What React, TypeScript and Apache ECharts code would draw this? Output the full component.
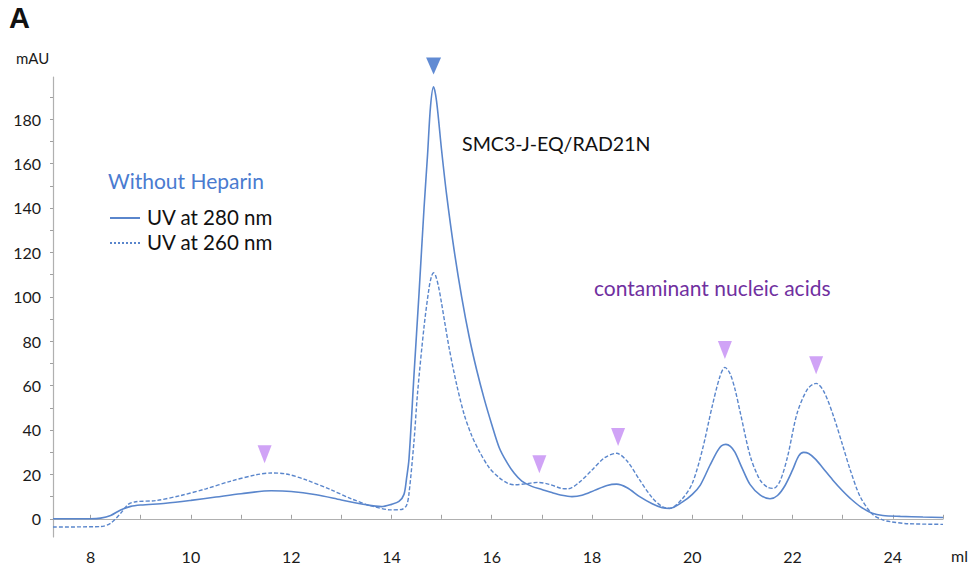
import React, { useEffect, useRef } from "react";
import * as echarts from "echarts";

// Elution volume (ml) and absorbance (mAU)
const uv280: [number, number][] = [
  [7.25, 0], [8.0, 0], [8.2, 0.3], [8.4, 1.5], [8.6, 4], [8.8, 5.6], [9.0, 6.2], [9.5, 7],
  [10.0, 8.3], [10.5, 9.8], [11.0, 11.3], [11.6, 12.6], [12.0, 12.3], [12.5, 10.8], [13.0, 8.5],
  [13.5, 6.3], [13.8, 5.5], [14.0, 6.5], [14.15, 7.8], [14.25, 11], [14.3, 18], [14.35, 27],
  [14.45, 65], [14.55, 101.5], [14.65, 140], [14.72, 164], [14.78, 186], [14.84, 194.6],
  [14.9, 188], [15.0, 166], [15.1, 146], [15.25, 121], [15.4, 100], [15.55, 82], [15.7, 67],
  [15.85, 54], [16.0, 42.5], [16.15, 32], [16.3, 25.5], [16.45, 20.5], [16.6, 17], [16.8, 14.6],
  [17.0, 13.2], [17.2, 11.8], [17.4, 10.6], [17.6, 10], [17.8, 10.6], [18.05, 12.8], [18.3, 15],
  [18.49, 15.6], [18.7, 14], [18.95, 10], [19.2, 6.8], [19.4, 5], [19.55, 4.7], [19.8, 7.5],
  [20.0, 11], [20.16, 15.2], [20.35, 24], [20.5, 30.5], [20.58, 32.8], [20.67, 33.5], [20.76, 32.6],
  [20.85, 30], [21.0, 22.5], [21.15, 15.5], [21.35, 10.8], [21.55, 9], [21.7, 10.5], [21.85, 15],
  [22.0, 22], [22.12, 28.2], [22.22, 29.9], [22.32, 29.4], [22.45, 27], [22.6, 23], [22.8, 17.5],
  [23.0, 12.5], [23.15, 9.2], [23.35, 5.5], [23.59, 2.5], [23.8, 1.5], [24.15, 1.1], [24.6, 0.8],
  [25.0, 0.6],
];

const uv260: [number, number][] = [
  [7.25, -3.7], [8.2, -3.5], [8.4, -2], [8.6, 2.5], [8.75, 6.5], [8.9, 7.7], [9.3, 8.2], [9.8, 10.5],
  [10.3, 13.5], [10.8, 17], [11.3, 19.8], [11.6, 20.6], [11.9, 20.2], [12.3, 17.5], [12.8, 13],
  [13.2, 9], [13.6, 5.8], [14.0, 4], [14.2, 4.2], [14.3, 6], [14.35, 11.4], [14.45, 35], [14.52, 56.5],
  [14.65, 86.5], [14.75, 104], [14.8, 109.3], [14.84, 110.8], [14.88, 109.6], [14.94, 104.5],
  [15.0, 97], [15.15, 77], [15.3, 60.5], [15.45, 47], [15.6, 37.5], [15.75, 30.5], [15.95, 23],
  [16.15, 18.5], [16.32, 16], [16.45, 15.3], [16.7, 15.8], [16.92, 16.4], [17.15, 15.5], [17.39, 13.7],
  [17.52, 13.5], [17.75, 16.5], [18.0, 22], [18.25, 27.5], [18.49, 29.5], [18.7, 26], [18.95, 17.5],
  [19.2, 9.5], [19.4, 5.5], [19.55, 4.7], [19.8, 9], [20.0, 16], [20.2, 31], [20.4, 51], [20.55, 64],
  [20.65, 68.2], [20.75, 65.5], [20.85, 58.5], [20.96, 47.5], [21.16, 27.9], [21.35, 17.5], [21.5, 14.2],
  [21.62, 13.7], [21.75, 17], [21.9, 28], [22.09, 47.5], [22.3, 58.5], [22.47, 61], [22.62, 57.5],
  [22.82, 46], [23.0, 33], [23.15, 22], [23.35, 9.9], [23.59, 2.1], [23.8, -0.5], [23.95, -1.3],
  [24.3, -2.2], [25.0, -2.5],
];

// Peak markers (arrowheads)
const nucleicMarkers: [number, number][] = [
  [11.47, 29.1], [16.95, 24.6], [18.52, 36.8], [20.65, 76], [22.47, 69.2],
];
const proteinMarker: [number, number][] = [[14.84, 204]];

const xTicks = [8, 9, 10, 11, 12, 13, 14, 15, 16, 17, 18, 19, 20, 21, 22, 23, 24, 25];
const xLabels = [8, 10, 12, 14, 16, 18, 20, 22, 24];
const yTicks = [0, 10, 20, 30, 40, 50, 60, 70, 80, 90, 100, 110, 120, 130, 140, 150, 160, 170, 180, 190];
const yLabels = [0, 20, 40, 60, 80, 100, 120, 140, 160, 180];

const LINE = "#5a86cc";
const FONT = "Lato, 'Open Sans', sans-serif";

export default function App() {
  const ref = useRef<HTMLDivElement>(null);
  useEffect(() => {
    if (!ref.current) return;
    const chart = echarts.init(ref.current, undefined, { renderer: "svg" });
    chart.setOption({
      animation: false,
      backgroundColor: "#ffffff",
      textStyle: { fontFamily: FONT },
      grid: { left: 53, right: 31, top: 77, bottom: 35, containLabel: false },
      xAxis: {
        type: "value",
        min: 7.25,
        max: 25,
        axisLine: { show: true, lineStyle: { color: "#b0b0b0", width: 1.2 } },
        axisTick: { show: true, customValues: xTicks, length: 4, inside: true, lineStyle: { color: "#a0a0a0" } },
        axisLabel: { customValues: xLabels, color: "#1a1a1a", fontSize: 16, margin: 11, fontFamily: FONT },
        splitLine: { show: false },
      },
      yAxis: {
        type: "value",
        min: -8.2,
        max: 199,
        axisLine: { show: true, lineStyle: { color: "#b0b0b0", width: 1.2 } },
        axisTick: { show: true, customValues: yTicks, length: 3, lineStyle: { color: "#a0a0a0" } },
        axisLabel: { customValues: yLabels, color: "#1a1a1a", fontSize: 16, margin: 12, fontFamily: FONT },
        splitLine: { show: false },
      },
      series: [
        {
          name: "UV at 280 nm",
          type: "line",
          data: uv280,
          smooth: 0.3,
          showSymbol: false,
          lineStyle: { color: LINE, width: 1.6 },
          z: 3,
        },
        {
          name: "UV at 260 nm",
          type: "line",
          data: uv260,
          smooth: 0.3,
          showSymbol: false,
          lineStyle: { color: LINE, width: 1.4, type: [4, 2] },
          z: 3,
        },
        {
          type: "scatter",
          data: nucleicMarkers,
          symbol: "triangle",
          symbolRotate: 180,
          symbolSize: [14, 18],
          itemStyle: { color: "#c48cf4" },
          clip: false,
          z: 4,
        },
        {
          type: "scatter",
          data: proteinMarker,
          symbol: "triangle",
          symbolRotate: 180,
          symbolSize: [15, 17],
          itemStyle: { color: "#3a6ec8" },
          clip: false,
          z: 4,
        },
      ],
      graphic: [
        { type: "text", left: 9, top: 3, style: { text: "A", fontSize: 29, fontWeight: "bold", fill: "#111", fontFamily: "'Liberation Sans', Arial, sans-serif" } },
        { type: "text", left: 16, top: 50, style: { text: "mAU", fontSize: 15, fill: "#1a1a1a", fontFamily: FONT } },
        { type: "text", left: 951, top: 547, style: { text: "ml", fontSize: 16, fill: "#1a1a1a", fontFamily: FONT } },
        { type: "text", left: 108, top: 170, style: { text: "Without Heparin", fontSize: 21, fill: "#4a7bd0", fontFamily: FONT } },
        { type: "line", shape: { x1: 110, y1: 218, x2: 140, y2: 218 }, style: { stroke: LINE, lineWidth: 2 } },
        { type: "text", left: 147, top: 206, style: { text: "UV at 280 nm", fontSize: 20.5, fill: "#111", fontFamily: FONT } },
        { type: "line", shape: { x1: 110, y1: 243, x2: 140, y2: 243 }, style: { stroke: LINE, lineWidth: 2, lineDash: [2, 2] } },
        { type: "text", left: 147, top: 231, style: { text: "UV at 260 nm", fontSize: 20.5, fill: "#111", fontFamily: FONT } },
        { type: "text", left: 462, top: 133, style: { text: "SMC3-J-EQ/RAD21N", fontSize: 19.6, fill: "#111", fontFamily: FONT } },
        { type: "text", left: 594, top: 277, style: { text: "contaminant nucleic acids", fontSize: 21, fill: "#7030a0", fontFamily: FONT } },
      ],
    });
    return () => chart.dispose();
  }, []);
  return (
    <div
      ref={ref}
      style={{ position: "fixed", left: 0, top: 0, width: 974, height: 572 }}
    />
  );
}
